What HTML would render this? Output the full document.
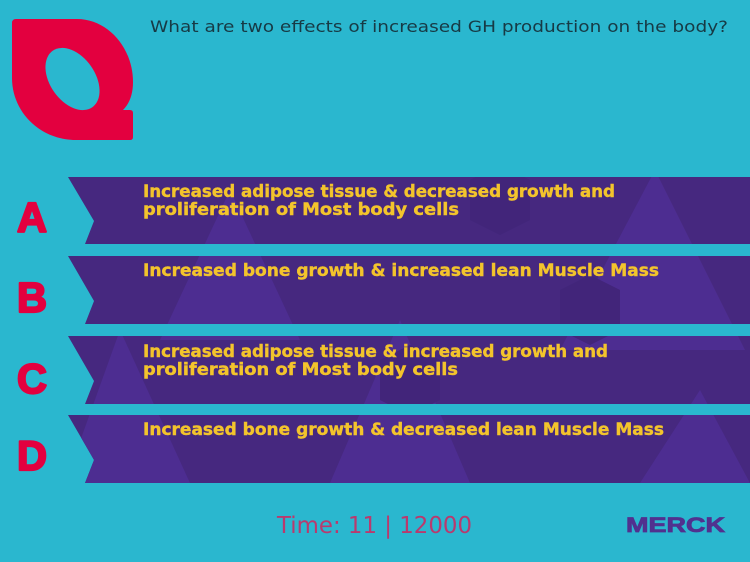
<!DOCTYPE html>
<html><head><meta charset="utf-8"><style>
html,body{margin:0;padding:0;background:#2ab7cf;}
svg{display:block;}
</style></head><body>
<svg width="750" height="562" viewBox="0 0 750 562" xmlns="http://www.w3.org/2000/svg">
<rect x="0" y="0" width="750" height="562" fill="#2ab7cf"/>
<!-- Q logo -->
<path d="M16,19 L77,19 C108,19 133,48 133,82 C133,95 129,104 123,110 L130,110 Q133,110 133,113 L133,137 Q133,140 130,140 L76,140 C40,140 12,112 12,78 L12,23 Q12,19 16,19 Z" fill="#e3003f"/>
<ellipse cx="72.5" cy="79" rx="34.5" ry="22.5" transform="rotate(55 72.5 79)" fill="#2ab7cf"/>
<!-- question -->
<text x="150" y="32" font-family="DejaVu Sans, Liberation Sans, sans-serif" font-size="16" fill="#173a45" textLength="578" lengthAdjust="spacingAndGlyphs">What are two effects of increased GH production on the body?</text>
<defs>
<clipPath id="bands">
<polygon points="68,177 750,177 750,244 85,244 94,221"/>
<polygon points="68,256 750,256 750,324 85,324 94,301"/>
<polygon points="68,336 750,336 750,404 85,404 94,381"/>
<polygon points="68,415 750,415 750,483 85,483 94,460"/>
</clipPath>
</defs>
<g clip-path="url(#bands)">
<rect x="60" y="170" width="690" height="320" fill="#46287f"/>
<g fill="#4d2d91">
<polygon points="230,190 160,340 300,340"/>
<polygon points="400,320 330,483 470,483"/>
<polygon points="655,170 560,350 745,350"/>
<polygon points="120,330 65,483 190,483"/>
<polygon points="700,390 640,483 750,483"/>
</g>
<g fill="#42257a">
<polygon points="470,180 500,165 530,180 530,220 500,235 470,220"/>
<polygon points="560,290 590,275 620,290 620,330 590,345 560,330"/>
<polygon points="380,360 410,345 440,360 440,400 410,415 380,400"/>
</g>
</g>
<!-- letters -->
<g font-family="Liberation Sans, DejaVu Sans, sans-serif" font-weight="bold" font-size="42" fill="#e3003f" stroke="#e3003f" stroke-width="2.2" stroke-linejoin="round">
<text x="17" y="232" textLength="30" lengthAdjust="spacingAndGlyphs">A</text>
<text x="17" y="312" textLength="30" lengthAdjust="spacingAndGlyphs">B</text>
<text x="17" y="393" textLength="30" lengthAdjust="spacingAndGlyphs">C</text>
<text x="17" y="470" textLength="30" lengthAdjust="spacingAndGlyphs">D</text>
</g>
<!-- answers -->
<g font-family="DejaVu Sans, Liberation Sans, sans-serif" font-weight="bold" font-size="17" fill="#f3c42c" stroke="#f3c42c" stroke-width="0.4">
<text x="143" y="197" textLength="472" lengthAdjust="spacingAndGlyphs">Increased adipose tissue &amp; decreased growth and</text>
<text x="143" y="215" textLength="316" lengthAdjust="spacingAndGlyphs">proliferation of Most body cells</text>
<text x="143" y="276" textLength="516" lengthAdjust="spacingAndGlyphs">Increased bone growth &amp; increased lean Muscle Mass</text>
<text x="143" y="357" textLength="465" lengthAdjust="spacingAndGlyphs">Increased adipose tissue &amp; increased growth and</text>
<text x="143" y="375" textLength="315" lengthAdjust="spacingAndGlyphs">proliferation of Most body cells</text>
<text x="143" y="435" textLength="521" lengthAdjust="spacingAndGlyphs">Increased bone growth &amp; decreased lean Muscle Mass</text>
</g>
<!-- footer -->
<text x="277" y="533" font-family="DejaVu Sans, Liberation Sans, sans-serif" font-size="23" fill="#b93a6e" textLength="195" lengthAdjust="spacingAndGlyphs">Time: 11 | 12000</text>
<text x="626" y="532" font-family="Liberation Sans, DejaVu Sans, sans-serif" font-weight="bold" font-size="21" fill="#51318f" stroke="#51318f" stroke-width="0.8" textLength="99" lengthAdjust="spacingAndGlyphs">MERCK</text>
</svg>
</body></html>
